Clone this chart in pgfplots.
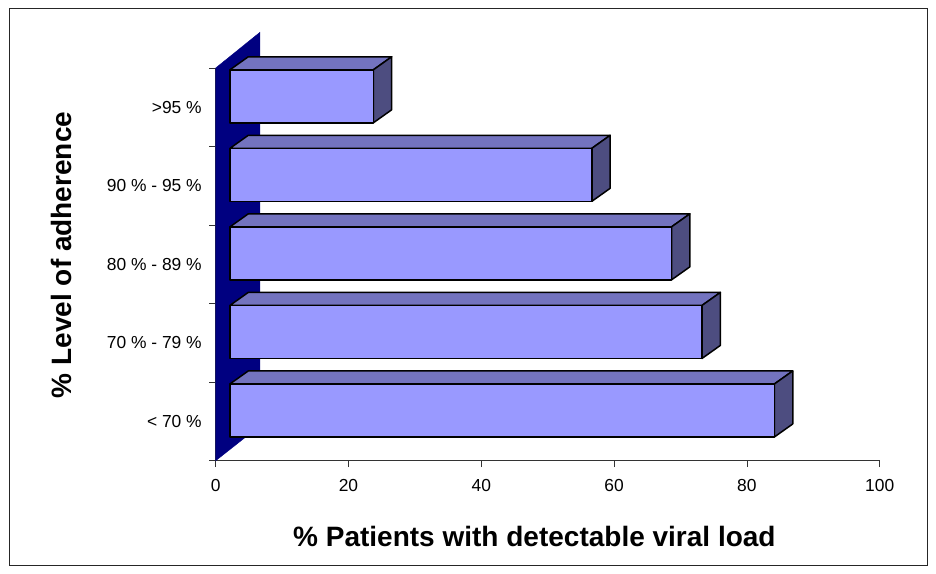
\documentclass[border=0pt]{standalone}
\usepackage{pgfplots}
\pgfplotsset{compat=1.18}
\usepackage{pgfplotstable}
\usepackage{fontspec}
\setmainfont{Liberation Sans}

\definecolor{frontc}{RGB}{153,153,255}
\definecolor{topc}{RGB}{115,115,191}
\definecolor{sidec}{RGB}{77,77,128}
\definecolor{wallc}{RGB}{0,0,128}

% category index (0 = bottom), % patients with detectable viral load
\pgfplotstableread{
cat v
0 82.0
1 71.1
2 66.5
3 54.5
4 21.6
}\bardata

% 3-D look: front face starts at x0, bar centre offset, half height, depth
\def\xo{2.15}
\def\yc{0.14}
\def\hh{0.3375}
\def\dx{2.756}
\def\dy{0.1655}

\begin{document}
\begin{tikzpicture}
\useasboundingbox (0,0) rectangle (936bp,574bp);
\draw[line width=1bp,black!85] (9.3bp,565.7bp) rectangle (927bp,8bp);
\begin{axis}[
    at={(215.7bp,113.3bp)}, anchor=south west,
    scale only axis,
    width=664bp, height=392.7bp,
    xmin=0, xmax=100,
    ymin=-0.5, ymax=4.5,
    clip=false,
    axis x line*=bottom, axis y line*=left,
    axis line style={-, black!80, line width=0.8bp},
    xtick={0,20,...,100},
    ytick={-0.5,0.5,...,4.5},
    yticklabels={},
    extra y ticks={0,1,2,3,4},
    extra y tick labels={{< 70 \%},{70 \% - 79 \%},{80 \% - 89 \%},{90 \% - 95 \%},{>95 \%}},
    extra y tick style={tick style={draw=none}},
    tick align=outside,
    major tick length=6.5bp,
    tick style={black!80, line width=0.8bp},
    /pgf/number format/assume math mode=true,
    ticklabel style={font=\fontsize{17.4bp}{20bp}\selectfont},
    yticklabel style={xshift=-4bp},
    xticklabel style={yshift=-9bp},
    xlabel={\% Patients with detectable viral load},
    ylabel={\% Level of adherence},
    label style={font=\bfseries\fontsize{28bp}{32bp}\selectfont},
    xlabel style={at={(axis description cs:0.48,-0.194)}, anchor=center},
    ylabel style={at={(axis description cs:-0.2315,0.524)}, anchor=center, rotate=0},
    front/.style={fill=frontc, draw=black, line width=1.5bp, line join=round},
    topf/.style={fill=topc, draw=black, line width=1.5bp, line join=round},
    sidef/.style={fill=sidec, draw=black, line width=1.5bp, line join=round},
]
% back wall
\addplot[fill=wallc, draw=wallc] coordinates {(0,-0.5) (0,4.5) (6.67,4.955) (6.67,-0.055)} -- cycle;

\pgfplotsinvokeforeach{0,...,4}{
  \pgfplotstablegetelem{#1}{v}\of\bardata
  \pgfmathsetmacro\xb{\xo+\pgfplotsretval}
  \pgfmathsetmacro\xc{\xb+\dx}
  \pgfmathsetmacro\xd{\xo+\dx}
  \pgfmathsetmacro\ya{#1+\yc-\hh}
  \pgfmathsetmacro\yb{#1+\yc+\hh}
  \pgfmathsetmacro\yd{\yb+\dy}
  \pgfmathsetmacro\ye{\ya+\dy}
  \edef\doplot{%
    \noexpand\addplot[topf] coordinates {(\xo,\yb) (\xb,\yb) (\xc,\yd) (\xd,\yd)} -- cycle;
    \noexpand\addplot[sidef] coordinates {(\xb,\ya) (\xc,\ye) (\xc,\yd) (\xb,\yb)} -- cycle;
    \noexpand\addplot[front] coordinates {(\xo,\ya) (\xb,\ya) (\xb,\yb) (\xo,\yb)} -- cycle;
  }
  \doplot
}
\end{axis}
\end{tikzpicture}
\end{document}
